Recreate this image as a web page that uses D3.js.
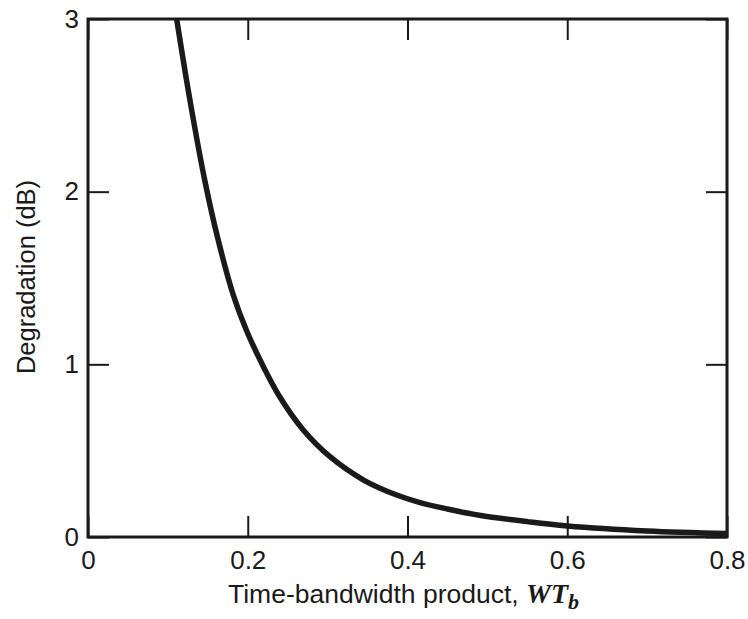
<!DOCTYPE html>
<html>
<head>
<meta charset="utf-8">
<script src="https://cdn.jsdelivr.net/npm/d3@7"></script>
<style>
html,body{margin:0;padding:0;background:#fff;}
svg{display:block;}
</style>
</head>
<body>
<svg id="chart" width="748" height="619"></svg>
<script>
// Data
const wtb = [0.111, 0.128, 0.146, 0.163, 0.182, 0.199, 0.2175, 0.240, 0.2695, 0.303, 0.345, 0.3865, 0.4157, 0.450, 0.490, 0.550, 0.600, 0.700, 0.800];
const degradation = [3.0, 2.52, 2.07, 1.72, 1.40, 1.19, 1.006, 0.812, 0.620, 0.465, 0.330, 0.243, 0.199, 0.162, 0.126, 0.089, 0.064, 0.035, 0.020];
const xTicks = [0, 0.2, 0.4, 0.6, 0.8];
const xTickLabels = ["0", "0.2", "0.4", "0.6", "0.8"];
const yTicks = [0, 1, 2, 3];
const yTickLabels = ["0", "1", "2", "3"];

const svg = d3.select("#chart");
const L = 88, R = 727, T = 19, B = 537;
const x = d3.scaleLinear().domain([0, 0.8]).range([L, R]);
const y = d3.scaleLinear().domain([0, 3]).range([B, T]);
const ink = "#1a1a1a";
const tickLen = 21;

svg.append("defs").append("clipPath").attr("id", "clip")
  .append("rect").attr("x", L).attr("y", T).attr("width", R - L).attr("height", B - T);

// Curve
const pts = wtb.map((d, i) => [d, degradation[i]]);
svg.append("path")
  .datum(pts)
  .attr("clip-path", "url(#clip)")
  .attr("fill", "none")
  .attr("stroke", ink)
  .attr("stroke-width", 5.5)
  .attr("d", d3.line().x(d => x(d[0])).y(d => y(d[1])).curve(d3.curveCatmullRom.alpha(0.5)));

// Axes (inward ticks on all sides)
const fontFam = "'Liberation Sans', Arial, Helvetica, sans-serif";
const serif = "'Liberation Serif', 'Times New Roman', serif";
const axB = d3.axisBottom(x).tickValues(xTicks).tickSize(-tickLen).tickFormat((d, i) => xTickLabels[i]);
const axT = d3.axisTop(x).tickValues(xTicks).tickSize(-tickLen).tickFormat("");
const axLft = d3.axisLeft(y).tickValues(yTicks).tickSize(-tickLen).tickFormat((d, i) => yTickLabels[i]);
const axRt = d3.axisRight(y).tickValues(yTicks).tickSize(-tickLen).tickFormat("");

function style(g) {
  g.select(".domain").remove();
  g.selectAll(".tick line").attr("stroke", ink).attr("stroke-width", 2);
  g.selectAll(".tick text").attr("fill", ink).attr("font-family", fontFam).attr("font-size", 26);
}
const gB = svg.append("g").attr("transform", `translate(0,${B})`).call(axB).call(style);
gB.selectAll(".tick text").attr("y", 14).attr("dy", "0.71em");
svg.append("g").attr("transform", `translate(0,${T})`).call(axT).call(style);
const gL = svg.append("g").attr("transform", `translate(${L},0)`).call(axLft).call(style);
svg.append("g").attr("transform", `translate(${R},0)`).call(axRt).call(style);
gL.selectAll(".tick text").attr("x", -9);

// Frame
svg.append("rect").attr("x", L).attr("y", T).attr("width", R - L).attr("height", B - T)
  .attr("fill", "none").attr("stroke", ink).attr("stroke-width", 3);

// X title
const xt = svg.append("text").attr("x", 228).attr("y", 603)
  .attr("font-family", fontFam).attr("font-size", 26.5).attr("fill", ink);
xt.append("tspan").text("Time-bandwidth product, ");
xt.append("tspan").attr("font-family", serif)
  .attr("font-weight", "bold").attr("font-style", "italic").attr("font-size", 28).text("WT");
xt.append("tspan").attr("font-family", serif)
  .attr("font-weight", "bold").attr("font-style", "italic").attr("font-size", 22).attr("dy", 6).text("b");

// Y title
svg.append("text").attr("transform", "translate(35,277) rotate(-90)")
  .attr("text-anchor", "middle")
  .attr("font-family", fontFam).attr("font-size", 25.5).attr("fill", ink)
  .text("Degradation (dB)");
</script>
</body>
</html>
